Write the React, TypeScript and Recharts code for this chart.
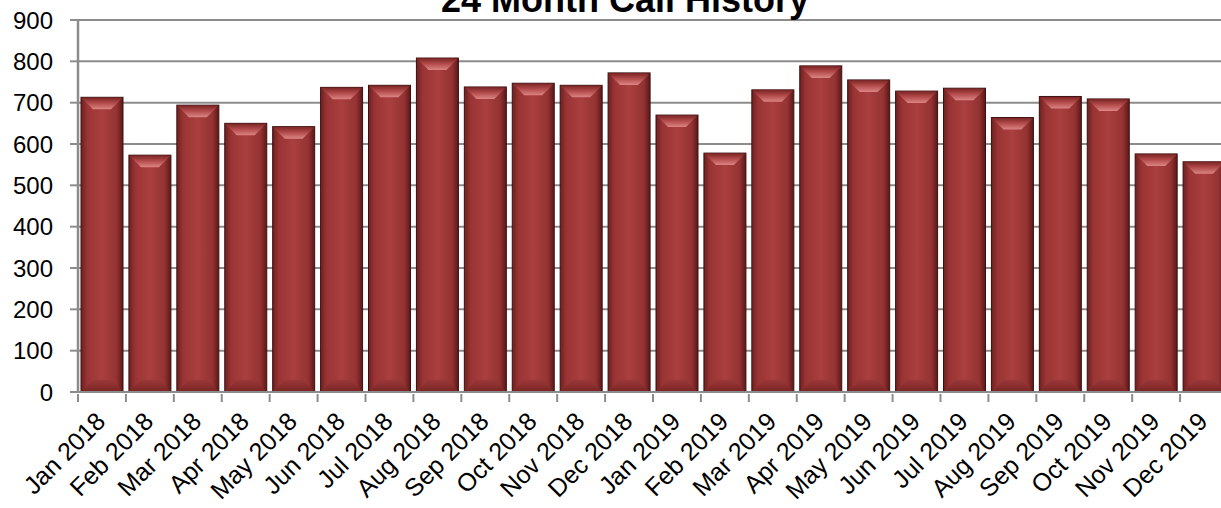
import {Bar, BarChart, CartesianGrid, XAxis, YAxis} from "recharts";

const months = [
    "Jan 2018", "Feb 2018", "Mar 2018", "Apr 2018", "May 2018", "Jun 2018",
    "Jul 2018", "Aug 2018", "Sep 2018", "Oct 2018", "Nov 2018", "Dec 2018",
    "Jan 2019", "Feb 2019", "Mar 2019", "Apr 2019", "May 2019", "Jun 2019",
    "Jul 2019", "Aug 2019", "Sep 2019", "Oct 2019", "Nov 2019", "Dec 2019",
];
const calls = [
    713, 573, 694, 650, 642, 737, 742, 808, 738, 747, 742, 772,
    670, 578, 731, 789, 755, 728, 735, 664, 715, 709, 576, 557,
];
const yTicks = [0, 100, 200, 300, 400, 500, 600, 700, 800, 900];

const data = months.map((month, i) => ({month, calls: calls[i]}));

const FONT = "'Liberation Sans', Arial, Helvetica, sans-serif";
const CHART_W = 1228;
const Y_AXIS_W = 78;
const BAND = (CHART_W - Y_AXIS_W) / months.length;

const BevelBar = (props: any) => {
    const {x, y, width, height} = props;
    if (!height || height <= 0) return null;
    const b = Math.min(12, width / 3.5, height / 2);
    return <g>
        <rect x={x} y={y} width={width} height={height} fill="url(#barBody)" stroke="#3d1010" strokeWidth={1}/>
        <polygon
            points={`${x + 0.5},${y + 0.5} ${x + width - 0.5},${y + 0.5} ${x + width - b},${y + b} ${x + b},${y + b}`}
            fill="url(#barTop)"/>
        <polygon
            points={`${x + b},${y + height - b} ${x + width - b},${y + height - b} ${x + width - 0.5},${y + height - 0.5} ${x + 0.5},${y + height - 0.5}`}
            fill="url(#barBottom)"/>
    </g>
};

const MonthTick = (props: any) => {
    const {x, y, payload} = props;
    const left = x - BAND / 2;
    return <g>
        <line x1={left} y1={y} x2={left} y2={y + 8} stroke="#8c8c8c" strokeWidth={2}/>
        <text
            transform={`translate(${x + 5},${y + 29}) rotate(-45)`}
            textAnchor="end"
            fontSize={25}
            fontFamily={FONT}
            fill="#000">
            {payload.value}
        </text>
    </g>
};

export default function App() {
    return <div style={{position: "absolute", left: 0, top: 0, width: 1221, height: 508, overflow: "hidden", background: "#fff"}}>
        <svg width={0} height={0} style={{position: "absolute"}}>
            <defs>
                <linearGradient id="barBody" x1="0" y1="0" x2="1" y2="0">
                    <stop offset="0%" stopColor="#6e2020"/>
                    <stop offset="15%" stopColor="#9a3434"/>
                    <stop offset="50%" stopColor="#aa3f3f"/>
                    <stop offset="85%" stopColor="#943232"/>
                    <stop offset="100%" stopColor="#5a1818"/>
                </linearGradient>
                <linearGradient id="barTop" x1="0" y1="0" x2="0" y2="1">
                    <stop offset="0%" stopColor="#7e2626"/>
                    <stop offset="45%" stopColor="#b24a4a"/>
                    <stop offset="100%" stopColor="#dc8484"/>
                </linearGradient>
                <linearGradient id="barBottom" x1="0" y1="0" x2="0" y2="1">
                    <stop offset="0%" stopColor="#9a3838"/>
                    <stop offset="100%" stopColor="#7a2424"/>
                </linearGradient>
            </defs>
        </svg>
        <BarChart
            width={CHART_W}
            height={508}
            data={data}
            margin={{top: 20, right: 0, bottom: 0, left: 0}}
            barCategoryGap={3}
        >
            <CartesianGrid vertical={false} stroke="#8c8c8c" strokeWidth={2}/>
            <XAxis
                dataKey="month"
                height={116}
                interval={0}
                tickLine={false}
                tickSize={0}
                tick={<MonthTick/>}
                axisLine={{stroke: "#8c8c8c", strokeWidth: 2}}
            />
            <YAxis
                width={Y_AXIS_W}
                domain={[0, 900]}
                ticks={yTicks}
                interval={0}
                tickSize={8}
                tickMargin={17}
                tickLine={{stroke: "#8c8c8c", strokeWidth: 2}}
                axisLine={{stroke: "#8c8c8c", strokeWidth: 2.5}}
                tick={{fill: "#000", fontSize: 24, fontFamily: FONT}}
            />
            <Bar dataKey="calls" shape={<BevelBar/>} isAnimationActive={false}/>
        </BarChart>
        <div style={{
            position: "absolute", left: 125, top: -18, width: 1000, textAlign: "center",
            fontFamily: FONT, fontWeight: "bold", fontSize: 36, lineHeight: "36px", color: "#000",
        }}>
            24 Month Call History
        </div>
    </div>
}
